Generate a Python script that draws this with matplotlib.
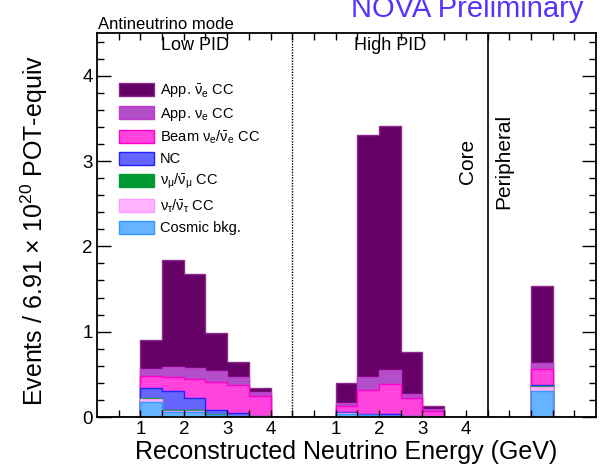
import numpy as np
import matplotlib
matplotlib.use("Agg")
import matplotlib.pyplot as plt
from matplotlib.patches import Patch
from matplotlib.ticker import FixedLocator, FixedFormatter, MultipleLocator

plt.rcParams['font.family'] = ['Liberation Sans', 'DejaVu Sans']
plt.rcParams['mathtext.fontset'] = 'custom'
plt.rcParams['mathtext.rm'] = 'Liberation Sans'
plt.rcParams['mathtext.it'] = 'Liberation Sans:italic'
plt.rcParams['mathtext.default'] = 'regular'

#------------------------------------------------------------------
# Data (events per 0.5 GeV bin)
#------------------------------------------------------------------
bin_low_edges = [1.0, 1.5, 2.0, 2.5, 3.0, 3.5]   # GeV, bins are 0.5 GeV wide
section_width = 4.5                             # GeV span of each PID section

# bottom of the stack first
names = ["Cosmic bkg.", r"$\nu_\tau/\bar{\nu}_\tau$ CC", r"$\nu_\mu/\bar{\nu}_\mu$ CC", "NC",
         r"Beam $\nu_e/\bar{\nu}_e$ CC", r"App. $\nu_e$ CC", r"App. $\bar{\nu}_e$ CC"]

# Low PID section
cosmic_low    = [0.18, 0.06, 0.06, 0.02, 0.010, 0.005]
nutau_low     = [0.03, 0.01, 0.01, 0.005, 0.002, 0.001]
numu_low      = [0.01, 0.01, 0.01, 0.01, 0.003, 0.002]
nc_low        = [0.12, 0.23, 0.14, 0.045, 0.035, 0.007]
beam_low      = [0.14, 0.16, 0.23, 0.33, 0.32, 0.235]
app_nue_low   = [0.08, 0.12, 0.12, 0.13, 0.10, 0.04]
app_nueb_low  = [0.34, 1.25, 1.11, 0.45, 0.17, 0.05]

# High PID section
cosmic_high   = [0.04, 0.02, 0.012, 0.005, 0.002, 0.0]
nutau_high    = [0.005, 0.002, 0.002, 0.001, 0.001, 0.0]
numu_high     = [0.005, 0.003, 0.002, 0.001, 0.0, 0.0]
nc_high       = [0.01, 0.015, 0.014, 0.005, 0.002, 0.0]
beam_high     = [0.07, 0.28, 0.36, 0.208, 0.065, 0.0]
app_nue_high  = [0.03, 0.15, 0.16, 0.05, 0.02, 0.0]
app_nueb_high = [0.24, 2.84, 2.86, 0.49, 0.04, 0.0]

# Peripheral sample (single bin), same component order as names
peripheral = [0.30, 0.05, 0.01, 0.01, 0.19, 0.07, 0.91]
peripheral_bin = 2   # third half-GeV slot of the peripheral region

low = [cosmic_low, nutau_low, numu_low, nc_low, beam_low, app_nue_low, app_nueb_low]
high = [cosmic_high, nutau_high, numu_high, nc_high, beam_high, app_nue_high, app_nueb_high]

faces = ['#66b3ff', '#ffb3ff', '#009933', '#6666ff', '#ff44dd', '#b34fc8', '#660066']
edges = ['#3399ff', '#ff99ff', '#009933', '#2222ff', '#ff00cc', '#c23ad0', '#8a2a8a']

#------------------------------------------------------------------
# Build the concatenated axis (units of 0.5 GeV)
#------------------------------------------------------------------
nper = int(section_width * 2)          # 9 slots per PID section
off_low, off_high, off_per = 0, nper, 2 * nper
nbins = off_per + 5
vals = np.zeros((len(names), nbins))
idx = [int(round(e * 2)) for e in bin_low_edges]
for c in range(len(names)):
    for k, i in enumerate(idx):
        vals[c, off_low + i] = low[c][k]
        vals[c, off_high + i] = high[c][k]
    vals[c, off_per + peripheral_bin] = peripheral[c]
cum = np.cumsum(vals, axis=0)
xedges = np.arange(nbins + 1)

fig = plt.figure(figsize=(6.02, 4.65), dpi=100)
ax = fig.add_axes([97 / 602, 48 / 465, 499 / 602, 384 / 465])

# ROOT-style stack: draw cumulative sums from the top down
for c in reversed(range(len(names))):
    ax.stairs(cum[c], xedges, baseline=0, fill=True, facecolor=faces[c],
              edgecolor=edges[c], lw=1)

ax.axvline(off_high, color='k', lw=1, ls=(0, (1, 1)))
ax.axvline(off_per, color='k', lw=1.2)

ax.set_xlim(0, nbins)
ax.set_ylim(0, 4.5)

# x ticks every 0.5 GeV, labels at whole GeV
xt = list(range(1, nbins))
xl = []
for t in xt:
    if t < off_per and (t % nper) % 2 == 0 and (t % nper) > 0:
        xl.append(str((t % nper) // 2))
    else:
        xl.append("")
ax.xaxis.set_major_locator(FixedLocator(xt))
ax.xaxis.set_major_formatter(FixedFormatter(xl))
ax.yaxis.set_major_locator(MultipleLocator(1))
ax.yaxis.set_minor_locator(MultipleLocator(0.2))
ax.tick_params(axis='x', which='major', direction='in', top=True, length=5, width=1,
               labelsize=13.5, pad=3)
ax.tick_params(axis='y', which='major', direction='in', right=True, length=10, width=1,
               labelsize=13.5, pad=3)
ax.tick_params(axis='y', which='minor', direction='in', right=True, length=5, width=1)
for s in ax.spines.values():
    s.set_linewidth(1.3)

ax.text(nper / 2, 4.35, "Low PID", ha='center', va='center', fontsize=13)
ax.text(off_high + nper / 2, 4.35, "High PID", ha='center', va='center', fontsize=13)
ax.text(17.1, 3.0, "Core", rotation=90, ha='center', va='center', fontsize=15)
ax.text(18.75, 3.0, "Peripheral", rotation=90, ha='center', va='center', fontsize=15)

fig.text(98 / 602, 0.9376, "Antineutrino mode", ha='left', va='baseline', fontsize=12)
fig.text(351 / 602, 0.963, "NOVA Preliminary", ha='left', va='baseline', fontsize=21,
         color='#5533ff')
fig.text(34 / 602, 0.505, r"Events / 6.91 $\times$ 10$^{20}$ POT-equiv", rotation=90,
         ha='center', va='center', fontsize=18)
fig.text(346 / 602, 0.029, "Reconstructed Neutrino Energy (GeV)", ha='center', va='center',
         fontsize=18)

handles = [Patch(facecolor=faces[c], edgecolor=edges[c], lw=1) for c in reversed(range(len(names)))]
ax.legend(handles, list(reversed(names)), loc='upper left', bbox_to_anchor=(0.044, 0.872),
          frameon=False, fontsize=10.5, handlelength=2.4, handleheight=1.0,
          handletextpad=0.4, labelspacing=0.4, borderpad=0, borderaxespad=0)

fig.savefig("out.png", dpi=100)
